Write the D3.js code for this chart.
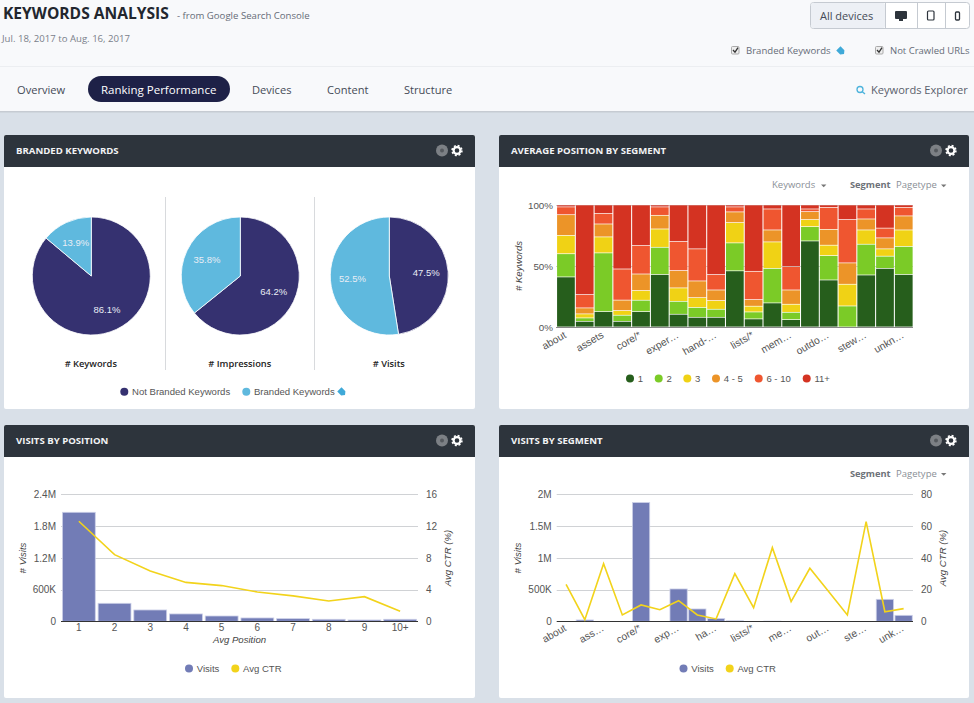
<!doctype html>
<html lang="en">
<head>
<meta charset="UTF-8">
<title>Keywords Analysis</title>
<script src="https://cdnjs.cloudflare.com/ajax/libs/d3/7.8.5/d3.min.js"></script>
<style>
    html, body { margin: 0; padding: 0; background: #d9e0e8; overflow: hidden; }
    svg { display: block; }
    text { font-family: "Open Sans", sans-serif; }
    .chart text { font-family: "Liberation Sans", Arial, sans-serif; }
</style>
</head>
<body>
<svg id="page" width="974" height="703"></svg>
<script>
// ---- data ----
const pieNames = ["Not Branded Keywords", "Branded Keywords"];
const pieTitles = ["# Keywords", "# Impressions", "# Visits"];
const pieNotBranded = [86.1, 64.2, 47.5];
const pieBranded = [13.9, 35.8, 52.5];

// only every second segment name is printed in the original
const segmentLabels = ["about", "", "assets", "", "core/*", "", "exper…", "", "hand-…", "", "lists/*", "", "mem…", "", "outdo…", "", "stew…", "", "unkn…"];
const segmentLabelsShort = ["about", "", "ass…", "", "core/*", "", "exp…", "", "ha…", "", "lists/*", "", "me…", "", "out…", "", "ste…", "", "unk…"];

const positionNames = ["1", "2", "3", "4 - 5", "6 - 10", "11+"];
const share1 = [41, 4.6, 12.6, 4.6, 12.6, 43, 10.4, 7.9, 7.9, 46, 6.6, 19.7, 6, 70.5, 38.5, 0, 42.6, 48, 43];
const share2 = [19, 2.8, 48.1, 5, 9.3, 22.3, 10.6, 8.1, 6.6, 22.9, 5.7, 28.3, 6, 11.7, 20, 17.2, 25.2, 10, 23];
const share3 = [15, 3.3, 13.1, 3.8, 7.9, 15, 11, 8, 7.1, 16.6, 4.7, 21.7, 6.6, 5.8, 8.5, 17.8, 11.7, 6, 13.5];
const share45 = [17, 4.9, 10.6, 8.6, 13.6, 11.2, 14.2, 13.7, 8.7, 8.8, 5.4, 9.8, 11.7, 6.5, 13, 17.5, 9, 9, 11.5];
const share610 = [6.4, 10.9, 8.6, 25.5, 23.3, 6.9, 23.8, 26.3, 12.6, 4.1, 23.2, 17.2, 19.2, 2.2, 18, 35.5, 8.2, 8, 7];
const share11 = [1.6, 73.5, 7, 52.5, 33.3, 1.6, 30, 36, 57.1, 1.6, 54.4, 3.3, 50.5, 3.3, 2, 12, 3.3, 19, 2];

const avgPositions = ["1", "2", "3", "4", "5", "6", "7", "8", "9", "10+"];
const visitsByPosition = [2060000, 340000, 214000, 139000, 100000, 63000, 50000, 38000, 25000, 38000];
const ctrByPosition = [12.6, 8.4, 6.35, 4.9, 4.5, 3.7, 3.2, 2.56, 3.1, 1.26];

const visitsBySegment = [0, 21000, 0, 0, 1870000, 0, 509000, 194000, 42000, 8000, 0, 3000, 0, 0, 0, 0, 0, 346000, 94000];
const ctrBySegment = [23.3, 1, 36.3, 4, 10.3, 7.3, 13, 4, 1.5, 30, 8.6, 46.4, 12.4, 33.4, 18.7, 4, 62.8, 6, 8];

const navItems = ["Overview", "Ranking Performance", "Devices", "Content", "Structure"];
const navX = [17, 101, 252, 327, 404];

// ---- colours ----
const pieColors = ["#353170", "#5fb9de"];
const stackColors = ["#265e1c", "#7bcb27", "#f0d215", "#ec9428", "#ef5630", "#d43322"];
const barColor = "#727cb6", lineColor = "#f2d31b";
const gridColor = "#d0d2d5", labelColor = "#555";

const svg = d3.select("#page");

// ---- page chrome ----
svg.append("rect").attr("width", 974).attr("height", 111).attr("fill", "#f8f9fb");
svg.append("rect").attr("y", 111).attr("width", 974).attr("height", 1.5).attr("fill", "#c6cbd2");
svg.append("rect").attr("y", 66).attr("width", 974).attr("height", 1).attr("fill", "#eceef1");

function label(parent, x, y, str, size, color, extra) {
    const t = parent.append("text").attr("x", x).attr("y", y).attr("dy", "0.35em")
        .attr("font-size", size).attr("fill", color).text(str);
    Object.entries(extra || {}).forEach(([k, v]) => t.attr(k, v));
    return t;
}

label(svg, 3, 13.5, "KEYWORDS ANALYSIS", 15.6, "#22262e", {"font-weight": 700});
label(svg, 177, 15.5, "- from Google Search Console", 9.6, "#666c78");
label(svg, 2, 38.5, "Jul. 18, 2017 to Aug. 16, 2017", 9.6, "#7a808a");

// device buttons
svg.append("rect").attr("x", 810.5).attr("y", 2.5).attr("width", 159).attr("height", 26).attr("rx", 3).attr("fill", "#fff").attr("stroke", "#c5cad1");
svg.append("rect").attr("x", 811).attr("y", 3).attr("width", 74).attr("height", 25).attr("rx", 2).attr("fill", "#edf0f5");
[885, 917, 945].forEach(x => svg.append("line").attr("x1", x + .5).attr("x2", x + .5).attr("y1", 3).attr("y2", 28).attr("stroke", "#c5cad1"));
label(svg, 820, 16, "All devices", 11, "#444a55");
svg.append("rect").attr("x", 895).attr("y", 11).attr("width", 12).attr("height", 8).attr("rx", 1).attr("fill", "#2d343c");
svg.append("rect").attr("x", 899).attr("y", 19).attr("width", 4).attr("height", 2).attr("fill", "#2d343c");
svg.append("rect").attr("x", 927.5).attr("y", 11).attr("width", 6.5).attr("height", 9).attr("rx", 1).attr("fill", "#fff").attr("stroke", "#2d343c").attr("stroke-width", 1.2);
svg.append("rect").attr("x", 955.5).attr("y", 12).attr("width", 4).attr("height", 8).attr("rx", 1).attr("fill", "#fff").attr("stroke", "#2d343c").attr("stroke-width", 1.3);

function tagIcon(parent, x, y) {
    parent.append("path").attr("transform", `translate(${x},${y}) rotate(-45)`)
        .attr("d", "M-3,-3 L3,-3 L3,2.5 L0,5 L-3,2.5 Z").attr("fill", "#3fa9d8");
}
function checkbox(x, y) {
    svg.append("rect").attr("x", x + .5).attr("y", y - 3.5).attr("width", 7.5).attr("height", 7.5).attr("rx", 1).attr("fill", "#eee").attr("stroke", "#aaa");
    svg.append("path").attr("d", `M${x + 2},${y} l2,2.2 l3,-4.5`).attr("fill", "none").attr("stroke", "#333").attr("stroke-width", 1.3);
}
checkbox(731, 50);
label(svg, 746, 50.5, "Branded Keywords", 9.6, "#666c78");
tagIcon(svg, 840.5, 50.5);
checkbox(875, 50);
label(svg, 890, 50.5, "Not Crawled URLs", 9.5, "#666c78");

// nav
svg.append("rect").attr("x", 88).attr("y", 76).attr("width", 142).attr("height", 26).attr("rx", 13).attr("fill", "#1e2147");
navItems.forEach((d, i) => label(svg, navX[i], 90, d, i === 1 ? 11.5 : 11.1, i === 1 ? "#fff" : "#454b57"));
svg.append("circle").attr("cx", 860).attr("cy", 89.5).attr("r", 3).attr("fill", "none").attr("stroke", "#4db3dc").attr("stroke-width", 1.3);
svg.append("line").attr("x1", 862).attr("y1", 91.5).attr("x2", 865).attr("y2", 94).attr("stroke", "#4db3dc").attr("stroke-width", 1.4);
label(svg, 871, 90, "Keywords Explorer", 11.1, "#5a606c");

// ---- cards ----
function card(x, y, w, h, title) {
    svg.append("rect").attr("x", x).attr("y", y).attr("width", w).attr("height", h).attr("rx", 2).attr("fill", "#fff");
    svg.append("path").attr("d", `M${x},${y + 32} V${y + 2} Q${x},${y} ${x + 2},${y} H${x + w - 2} Q${x + w},${y} ${x + w},${y + 2} V${y + 32} Z`).attr("fill", "#2d343c");
    label(svg, x + 12, y + 15.5, title, 9.6, "#f2f3f5", {"font-weight": 700});
    svg.append("circle").attr("cx", x + w - 33).attr("cy", y + 15.5).attr("r", 6).attr("fill", "#7c8085");
    svg.append("circle").attr("cx", x + w - 33).attr("cy", y + 15.5).attr("r", 2).attr("fill", "#55595e");
    svg.append("circle").attr("cx", x + w - 18).attr("cy", y + 15.5).attr("r", 3.4).attr("fill", "none").attr("stroke", "#fff").attr("stroke-width", 2.2);
    svg.append("circle").attr("cx", x + w - 18).attr("cy", y + 15.5).attr("r", 4.9).attr("fill", "none").attr("stroke", "#fff").attr("stroke-width", 1.6).attr("stroke-dasharray", "2 1.85");
}
card(4, 135, 471, 274, "BRANDED KEYWORDS");
card(499, 135, 470, 274, "AVERAGE POSITION BY SEGMENT");
card(4, 425, 471, 273, "VISITS BY POSITION");
card(499, 425, 470, 273, "VISITS BY SEGMENT");

function caret(x, y) {
    svg.append("path").attr("d", `M${x},${y - 1} h5.4 l-2.7,2.8 Z`).attr("fill", "#777");
}
label(svg, 772, 185, "Keywords", 9.5, "#8a8f96"); caret(821, 185.5);
label(svg, 850, 185, "Segment", 9.3, "#6d7278", {"font-weight": 700});
label(svg, 896, 185, "Pagetype", 9.5, "#8a8f96"); caret(941, 185.5);
label(svg, 850, 473.5, "Segment", 9.3, "#6d7278", {"font-weight": 700});
label(svg, 896, 473.5, "Pagetype", 9.5, "#8a8f96"); caret(941, 474);

const chart = svg.append("g").attr("class", "chart");

// ---- pies ----
const pieCx = [91.3, 240.3, 389.3];
const pieCy = 276, pieR = 59;
const pieLayout = d3.pie().sort(null);
const arc = d3.arc().innerRadius(0).outerRadius(pieR);
const arcLabel = d3.arc().innerRadius(37).outerRadius(37);

pieTitles.forEach((title, i) => {
    const g = chart.append("g").attr("transform", `translate(${pieCx[i]},${pieCy})`);
    const slices = pieLayout([pieNotBranded[i], pieBranded[i]]);
    g.selectAll("path").data(slices).join("path")
        .attr("d", arc).attr("fill", (d, k) => pieColors[k])
        .attr("stroke", "#fff").attr("stroke-width", 0.8);
    g.selectAll("text").data(slices).join("text")
        .attr("transform", d => `translate(${arcLabel.centroid(d)})`)
        .attr("text-anchor", "middle").attr("dy", "0.35em")
        .attr("font-size", 9.5).attr("fill", "#e9edf5")
        .text(d => d.value.toFixed(1) + "%");
    label(svg, pieCx[i] - 0.5, 363.7, title, 9.3, "#222", {"text-anchor": "middle", "font-weight": 600});
});
[165.5, 314.5].forEach(x => svg.append("line").attr("x1", x).attr("x2", x).attr("y1", 197).attr("y2", 370).attr("stroke", "#d8dadd"));

function legendItem(cx, y, color, name) {
    chart.append("circle").attr("cx", cx).attr("cy", y).attr("r", 4).attr("fill", color);
    label(chart, cx + 7.7, y + 0.3, name, 9.55, "#555");
}
legendItem(124.3, 391.7, pieColors[0], pieNames[0]);
legendItem(246.3, 391.7, pieColors[1], pieNames[1]);
tagIcon(svg, 341.5, 391.5);

// ---- shared axis helpers ----
function yGrid(g, scale, ticks, x0, x1) {
    g.append("g").selectAll("line").data(ticks).join("line")
        .attr("x1", x0).attr("x2", x1)
        .attr("y1", d => Math.round(scale(d)) + .5).attr("y2", d => Math.round(scale(d)) + .5)
        .attr("stroke", gridColor);
}
function styleAxis(sel, size) {
    sel.select(".domain").remove();
    sel.selectAll(".tick line").remove();
    sel.selectAll("text").attr("font-size", size || 10).attr("fill", labelColor);
}
function rotatedTitle(x, y, str, rot) {
    chart.append("text").attr("transform", `translate(${x},${y}) rotate(${rot})`)
        .attr("text-anchor", "middle").attr("font-size", 9.6).attr("font-style", "italic")
        .attr("fill", "#444").text(str);
}
function segmentAxis(scale, labels, y, size) {
    chart.selectAll(null).data(scale.domain().filter(i => labels[i])).join("text")
        .attr("transform", i => `translate(${scale(i) + scale.bandwidth() / 2 + 1},${y}) rotate(-30)`)
        .attr("text-anchor", "end").attr("font-size", size).attr("fill", labelColor)
        .text(i => labels[i]);
}

// ---- stacked bars ----
const segIdx = d3.range(segmentLabels.length);
const stackX = d3.scaleBand().domain(segIdx).range([556.7, 913]).paddingInner(0.055).paddingOuter(0.02);
const stackY = d3.scaleLinear().domain([0, 100]).range([327.3, 205.3]);
const stackRows = segIdx.map(i => [share1[i], share2[i], share3[i], share45[i], share610[i], share11[i]]);
const stackSeries = d3.stack().keys(d3.range(6))(stackRows);

yGrid(chart, stackY, [100, 50], 556, 913);
chart.append("g").selectAll("g").data(stackSeries).join("g")
    .attr("fill", (d, i) => stackColors[i])
    .selectAll("rect").data(d => d).join("rect")
    .attr("x", (d, i) => stackX(i)).attr("width", stackX.bandwidth())
    .attr("y", d => stackY(d[1])).attr("height", d => Math.max(0, stackY(d[0]) - stackY(d[1]) - 0.7));
chart.append("line").attr("x1", 556).attr("x2", 913).attr("y1", 327.5).attr("y2", 327.5).attr("stroke", "#888");
chart.append("g").attr("transform", "translate(553,0)")
    .call(d3.axisLeft(stackY).tickValues([0, 50, 100]).tickFormat(d => d + "%").tickSize(0).tickPadding(0))
    .call(styleAxis, 9.8);
rotatedTitle(522, 266, "# Keywords", -90);
segmentAxis(stackX, segmentLabels, 337, 10.3);
const stackLegendX = [630, 658.7, 687.3, 716, 758.7, 806.7];
positionNames.forEach((d, i) => legendItem(stackLegendX[i], 378.5, stackColors[i], d));

// ---- bar + line combo charts ----
const fmtVisits = d => d === 0 ? "0" : d >= 1e6 ? (d / 1e6) + "M" : (d / 1e3) + "K";

function combo(cfg) {
    const x = d3.scaleBand().domain(cfg.domain).range(cfg.xr).paddingInner(0.08).paddingOuter(0.04);
    const y = d3.scaleLinear().domain([0, cfg.maxL]).range([621.3, 494.3]);
    const yR = d3.scaleLinear().domain([0, cfg.maxR]).range([621.3, 494.3]);
    yGrid(chart, y, d3.range(1, 5).map(k => cfg.maxL * k / 4), cfg.xr[0], cfg.xr[1]);
    chart.append("g").selectAll("rect").data(cfg.bars).join("rect")
        .attr("x", (d, i) => x(cfg.domain[i])).attr("width", x.bandwidth())
        .attr("y", d => y(d)).attr("height", d => y(0) - y(d))
        .attr("fill", barColor).attr("stroke", "#ccd0e8").attr("stroke-width", d => d ? 0.8 : 0);
    chart.append("line").attr("x1", cfg.xr[0]).attr("x2", cfg.xr[1]).attr("y1", 621.5).attr("y2", 621.5).attr("stroke", "#333");
    const line = d3.line().x((d, i) => x(cfg.domain[i]) + x.bandwidth() / 2).y(d => yR(d));
    chart.append("path").attr("d", line(cfg.line)).attr("fill", "none").attr("stroke", lineColor).attr("stroke-width", 1.6);
    chart.append("g").attr("transform", `translate(${cfg.xr[0] - 5},0)`)
        .call(d3.axisLeft(y).tickValues(d3.range(0, 5).map(k => cfg.maxL * k / 4)).tickFormat(fmtVisits).tickSize(0).tickPadding(0))
        .call(styleAxis);
    chart.append("g").attr("transform", `translate(${cfg.xr[1] + 8},0)`)
        .call(d3.axisRight(yR).tickValues(d3.range(0, 5).map(k => cfg.maxR * k / 4)).tickSize(0).tickPadding(0))
        .call(styleAxis);
    rotatedTitle(cfg.xr[0] - 35.5, 558, "# Visits", -90);
    rotatedTitle(cfg.xr[1] + 33, 558, "Avg CTR (%)", -90);
    return x;
}

const posX = combo({
    domain: avgPositions, xr: [61, 418], maxL: 2400000, maxR: 16,
    bars: visitsByPosition, line: ctrByPosition
});
chart.append("g").attr("transform", "translate(0,620)")
    .call(d3.axisBottom(posX).tickSize(0).tickPadding(4))
    .call(styleAxis);
label(chart, 239.5, 640, "Avg Position", 9.6, "#444", {"text-anchor": "middle", "font-style": "italic"});
legendItem(189, 668.5, barColor, "Visits");
legendItem(235.3, 668.5, lineColor, "Avg CTR");

const segX = combo({
    domain: segIdx, xr: [556.7, 913], maxL: 2000000, maxR: 80,
    bars: visitsBySegment, line: ctrBySegment
});
segmentAxis(segX, segmentLabelsShort, 630, 10.3);
legendItem(683.5, 668.5, barColor, "Visits");
legendItem(729.7, 668.5, lineColor, "Avg CTR");
</script>
</body>
</html>
